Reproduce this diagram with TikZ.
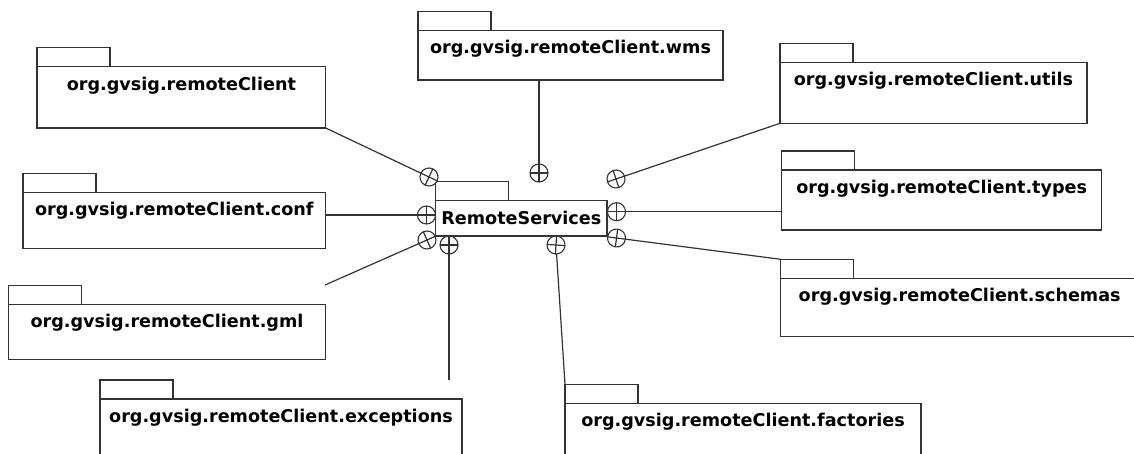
\documentclass[tikz,border=0pt]{standalone}
\usepackage{fontspec}
\setmainfont{DejaVu Sans}
\begin{document}
\begin{tikzpicture}[x=1pt,y=-1pt,
  pkg/.style={draw=black!80, line width=1.3pt, fill=white, rectangle,
    inner sep=0pt, outer sep=0pt, anchor=north west},
  pkgtab/.style={draw=black!80, line width=1.3pt},
  pkgname/.style={font=\fontsize{17.6}{20}\selectfont\bfseries, anchor=base,
    inner sep=0pt},
  link/.style={draw=black!80, line width=1.2pt},
  nest/.style={circle, draw=black!80, line width=1.1pt, fill=white,
    minimum size=18pt, inner sep=0pt, outer sep=0pt}]
% UML package: body node, tab on its top-left corner, name near the top
\newcommand{\umlpackage}[7]{%
  \node[pkg, minimum width=#4pt, minimum height=#5pt] (#1) at (#2,#3) {};
  \draw[pkgtab] (#1.north west) rectangle ++(73,-19);
  \coordinate (#1-tab) at ([yshift=19pt]#1.north west);
  \node[pkgname] (#1-name) at ([yshift=-#7pt]#1.north) {#6};
}
% nesting symbol: circle with a cross turned towards its connector
\newcommand{\nesting}[4]{%
  \node[nest, rotate=#4] (#1) at (#2,#3) {};
  \draw[link] (#1.north) -- (#1.south) (#1.east) -- (#1.west);
}
\clip (0,0) rectangle (1134,453);
\fill[white] (0,0) rectangle (1134,453);

\umlpackage{rclient}{37}{66.7}{288.7}{61.3}{org.gvsig.remoteClient}{24}
\umlpackage{wms}{418}{30.7}{305}{49.3}{org.gvsig.remoteClient.wms}{22.5}
\umlpackage{utils}{780}{62.3}{307}{61}{org.gvsig.remoteClient.utils}{23}
\umlpackage{conf}{23}{192.3}{302.7}{56}{org.gvsig.remoteClient.conf}{23}
\umlpackage{types}{781.7}{170}{320}{60}{org.gvsig.remoteClient.types}{23}
\umlpackage{gml}{8.3}{304.3}{317.4}{55}{org.gvsig.remoteClient.gml}{23}
\umlpackage{schemas}{780.7}{278.3}{358}{58.4}{org.gvsig.remoteClient.schemas}{23}
\umlpackage{exceptions}{100}{399}{362}{60}{org.gvsig.remoteClient.exceptions}{23}
\umlpackage{factories}{565}{403.3}{356}{60}{org.gvsig.remoteClient.factories}{23}
\umlpackage{rs}{435.7}{200.7}{171.3}{35.3}{RemoteServices}{23.3}

% free ends of the connectors
\coordinate (gmlend) at (325,285);
\coordinate (excend) at (449,380);

% nesting symbols around RemoteServices
\nesting{nTL}{429}{177}{-25}
\nesting{nT}{539}{173}{0}
\nesting{nTR}{616}{179}{18.5}
\nesting{nL}{426.5}{215}{0}
\nesting{nR1}{616.5}{211.7}{0}
\nesting{nR2}{616.5}{238}{-7.3}
\nesting{nL2}{427}{240}{24}
\nesting{nB1}{449}{245}{0}
\nesting{nB2}{556}{245}{-3.7}

% connectors
\draw[link] (rclient.south east) -- (nTL);
\draw[link] (wms.south -| nT) -- (nT);
\draw[link] (utils.south west) -- (nTR);
\draw[link] (conf.east |- nL) -- (nL);
\draw[link] (nR1) -- (types.west |- nR1);
\draw[link] (nR2) -- (schemas-tab);
\draw[link] (nL2) -- (gmlend);
\draw[link] (nB1) -- (excend);
\draw[link] (nB2) -- (factories-tab);
\end{tikzpicture}
\end{document}
